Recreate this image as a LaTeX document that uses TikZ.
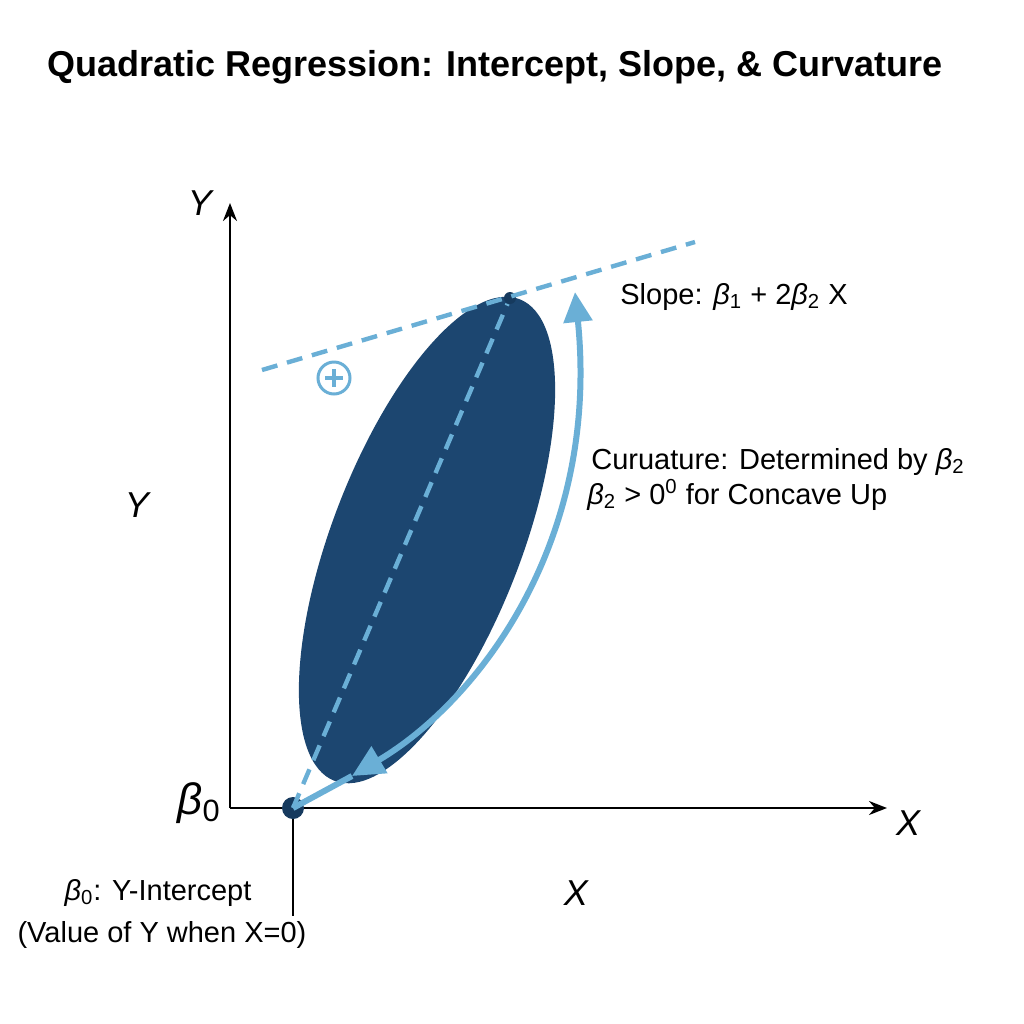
\documentclass[tikz,border=0pt]{standalone}
\usepackage{fontspec}
\setmainfont{Liberation Sans}
\usetikzlibrary{arrows.meta,calc}
\definecolor{navy}{HTML}{1C4670}
\definecolor{dotc}{HTML}{163A5E}
\definecolor{lblue}{HTML}{6AAFD6}
\newcommand\bb[1]{\textit{β}\textsubscript{#1}}
\begin{document}
\begin{tikzpicture}[x=0.5pt,y=-0.5pt,
  axis/.style={line width=1.2pt,-{Stealth[length=9pt,width=7pt]}},
  lbl/.style={font=\fontsize{14.5}{17}\selectfont,inner sep=0pt},
  axlbl/.style={font=\fontsize{18}{20}\selectfont\itshape,inner sep=0pt},
  dashl/.style={lblue,line width=2.2pt,dash pattern=on 8pt off 5pt},
  curv/.style={lblue,line width=3pt},
  ptdot/.style={circle,fill=dotc,inner sep=0pt,minimum size=#1}]
\useasboundingbox[fill=white] (0,0) rectangle (1024,1024);
\node[font=\fontsize{18}{21}\selectfont\bfseries] (title) at (495,67) {Quadratic Regression: Intercept, Slope, \& Curvature};
% ellipse
\fill[navy,rotate around={69:(427,540)}] (427,540) ellipse [x radius=258, y radius=95];
% axes
\coordinate (O) at (230,808);
\coordinate (Ytop) at (230,203);
\coordinate (Xend) at (887,808);
\draw[axis] (O) -- (Ytop);
\draw[axis] (O) -- (Xend);
\node[axlbl] (ylab) at (200,203) {Y};
\node[axlbl] (ylab2) at (137,505) {Y};
\node[axlbl] (xlab) at (908,823) {X};
\node[axlbl] (xlab2) at (576,893) {X};
\node[font=\fontsize{22}{24}\selectfont,inner sep=0pt] (b0) at (199,803) {\textit{β}\textsubscript{0}};
% points
\node[ptdot=11pt] (p0) at (293,808) {};
\node[ptdot=6pt] (pt) at (510,298) {};
\coordinate (vbot) at (293,916);
\draw[line width=1pt] (p0) -- (vbot);
% dashed lines
\coordinate (tl) at (262,370);
\coordinate (tr) at (695,242);
\draw[dashl] (tl) -- (tr);
\draw[dashl] (p0.center) -- (pt);
\node[circle,draw=lblue,line width=1.5pt,minimum size=16pt,inner sep=0pt] (plus) at (334,378) {};
\draw[lblue,line width=1.6pt] ($(plus.center)+(-9,0)$) -- ($(plus.center)+(9,0)$);
\draw[lblue,line width=1.6pt] ($(plus.center)+(0,-9)$) -- ($(plus.center)+(0,9)$);
% curvature arrow
\coordinate (cb) at (352,776);
\coordinate (ct) at (575,292);
\draw[curv] (p0.center) -- (cb);
\draw[curv,{Triangle[length=16pt,width=15pt]}-{Triangle[length=15pt,width=14pt]}] (cb) .. controls (480,700) and (600,540) .. (ct);
% labels
\node[lbl,anchor=west] (slope) at (620,297) {Slope: \bb{1} + 2\bb{2} X};
\node[lbl,anchor=west] (curv1) at (591,462) {Curuature: Determined by \bb{2}};
\node[lbl,anchor=west] (curv2) at (587,495) {\bb{2} > 0\textsuperscript{0} for Concave Up};
\node[lbl] (int1) at (158,893) {\textit{β}\textsubscript{0}: Y-Intercept};
\node[lbl] (int2) at (162,935) {(Value of Y when X=0)};
\end{tikzpicture}
\end{document}
